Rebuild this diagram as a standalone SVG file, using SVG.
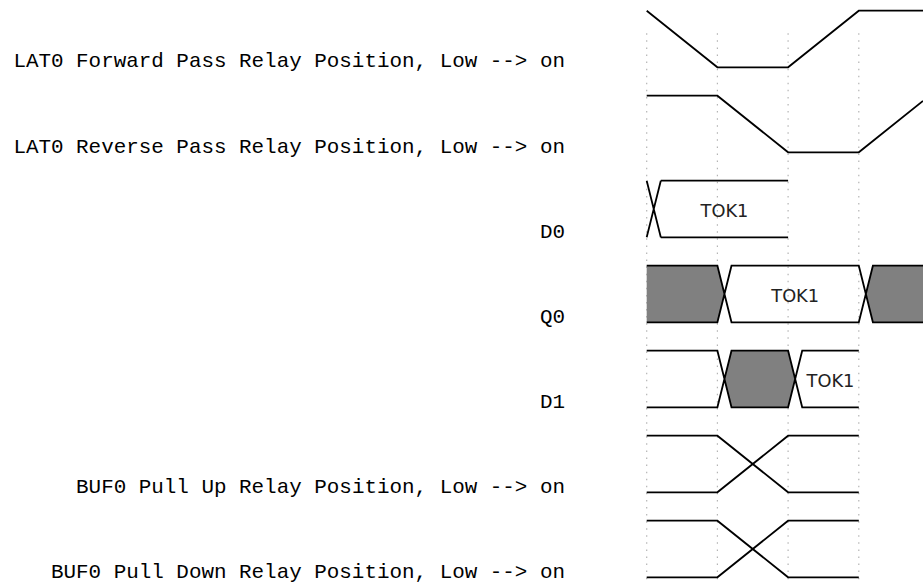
<svg xmlns="http://www.w3.org/2000/svg" width="923" height="586" viewBox="0 0 923 586">
  <style>
    .lbl { font-family: "Liberation Mono", "DejaVu Sans Mono", monospace; font-size: 20.9px; fill: #000; text-anchor: end; }
    .tok { font-family: "DejaVu Sans", Verdana, sans-serif; font-size: 17.8px; fill: #222; text-anchor: middle; }
    .w { fill: none; stroke: #000; stroke-width: 1.8; }
    .grey { fill: #808080; stroke: none; }
    .grid { stroke: #b4b4b4; stroke-width: 1.2; stroke-dasharray: 1.5 5.57; }
  </style>
  <rect width="923" height="586" fill="#fff"/>

  <!-- time grid -->
  <g id="grid">
    <line class="grid" x1="646.7" y1="33.3" x2="646.7" y2="582"/>
    <line class="grid" x1="717.4" y1="33.3" x2="717.4" y2="582"/>
    <line class="grid" x1="788.1" y1="33.3" x2="788.1" y2="582"/>
    <line class="grid" x1="858.8" y1="33.3" x2="858.8" y2="582"/>
  </g>

  <!-- signal names -->
  <g id="labels">
    <text class="lbl" x="565" y="67.3">LAT0 Forward Pass Relay Position, Low --&gt; on</text>
    <text class="lbl" x="565" y="152.5">LAT0 Reverse Pass Relay Position, Low --&gt; on</text>
    <text class="lbl" x="565" y="238">D0</text>
    <text class="lbl" x="565" y="323">Q0</text>
    <text class="lbl" x="565" y="408">D1</text>
    <text class="lbl" x="565" y="493">BUF0 Pull Up Relay Position, Low --&gt; on</text>
    <text class="lbl" x="565" y="578">BUF0 Pull Down Relay Position, Low --&gt; on</text>
  </g>

  <!-- waves -->
  <g id="lat0_fwd">
    <polyline class="w" points="646.7,10.7 717.4,67.3 788.1,67.3 858.8,10.7 923,10.7"/>
  </g>
  <g id="lat0_rev">
    <polyline class="w" points="646.7,95.7 717.4,95.7 788.1,152.3 858.8,152.3 923,100.9"/>
  </g>
  <g id="d0">
    <path class="w" d="M646.7,180.7 L660.8,237.3 M646.7,237.3 L660.8,180.7 M660.8,180.7 H788.1 M660.8,237.3 H788.1"/>
    <text class="tok" x="724.5" y="216.6">TOK1</text>
  </g>
  <g id="q0">
    <polygon class="grey" points="646.7,265.7 717.4,265.7 724.5,294 717.4,322.3 646.7,322.3"/>
    <polygon class="grey" points="923,265.7 872.9,265.7 865.9,294 872.9,322.3 923,322.3"/>
    <path class="w" d="M646.7,265.7 H717.4 L731.5,322.3 H858.8 L872.9,265.7 H923 M646.7,322.3 H717.4 L731.5,265.7 H858.8 L872.9,322.3 H923"/>
    <text class="tok" x="795.2" y="301.6">TOK1</text>
  </g>
  <g id="d1">
    <polygon class="grey" points="724.5,379 731.5,350.7 788.1,350.7 795.2,379 788.1,407.3 731.5,407.3"/>
    <path class="w" d="M646.7,350.7 H717.4 L731.5,407.3 H788.1 L802.2,350.7 H858.8 M646.7,407.3 H717.4 L731.5,350.7 H788.1 L802.2,407.3 H858.8"/>
    <text class="tok" x="830.5" y="386.6">TOK1</text>
  </g>
  <g id="buf0_up">
    <polyline class="w" points="646.7,435.7 717.4,435.7 788.1,492.3 858.8,492.3"/>
    <polyline class="w" points="646.7,492.3 717.4,492.3 788.1,435.7 858.8,435.7"/>
  </g>
  <g id="buf0_down">
    <polyline class="w" points="646.7,520.7 717.4,520.7 788.1,577.3 858.8,577.3"/>
    <polyline class="w" points="646.7,577.3 717.4,577.3 788.1,520.7 858.8,520.7"/>
  </g>
</svg>
